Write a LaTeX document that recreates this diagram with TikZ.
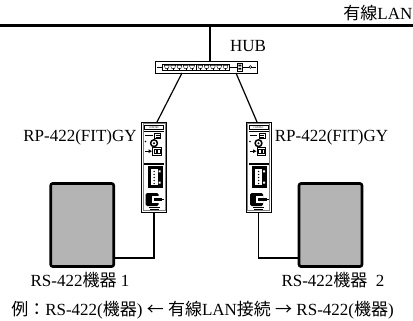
\documentclass[tikz,border=0pt]{standalone}
\usepackage{fontspec}
\setmainfont{Liberation Serif}
\newfontfamily\jpfont{Noto Sans CJK JP}
\definecolor{boxgray}{RGB}{180,180,180}

\tikzset{
  lbl/.style={font=\fontsize{17}{19}\selectfont, inner sep=0pt},
  equip/.style={draw=black, line width=2.6pt, rounded corners=2pt, fill=boxgray,
    minimum width=63pt, minimum height=83pt, inner sep=0pt, outer sep=0pt},
  unit/.style={draw=black, line width=0.8pt, fill=white,
    minimum width=25pt, minimum height=90pt, inner sep=0pt, outer sep=0pt},
  hubbox/.style={draw=black, line width=0.6pt, fill=white,
    minimum width=102.4pt, minimum height=12pt, inner sep=0pt, outer sep=0pt},
  cable/.style={line width=1.4pt},
  link/.style={line width=1.2pt},
  lan/.style={line width=2.8pt},
  % front panel of the RP-422(FIT)GY module, origin at its top-left corner
  rpface/.pic={
    \draw[line width=0.4pt, gray] (1.6,1.6) rectangle (23.4,88.4);
    \draw[line width=0.4pt] (3,3.5) rectangle (22,7.5);
    \node[font=\fontsize{2.6}{3}\selectfont, inner sep=0pt] at (12.5,5.6) {CONTEC};
    \fill (2.5,9) rectangle (22.5,10.5);
    \fill (3.5,12.6) rectangle (11,13.8);
    \draw[line width=0.7pt] (13,11.5) rectangle (19,16.8);
    \draw[line width=0.4pt] (14,13.2) -- (18,13.2) (14,15.1) -- (18,15.1);
    \fill (4,19.5) circle (0.9);
    \draw[line width=1.5pt] (12.5,21.2) circle (3.4);
    \fill (12.5,21.2) circle (1.1);
    \draw[line width=0.8pt] (11,25.5) rectangle (19.5,33);
    \draw[line width=0.5pt] (12.5,27) rectangle (15,31.5) (16,27) rectangle (18.3,31.5);
    \draw[line width=0.8pt] (3.5,29.2) -- (8,29.2);
    \fill (7,27.3) -- (10.5,29.2) -- (7,31.1) -- cycle;
    \fill (2.5,41) rectangle (22.5,42.6);
    \fill (6,44.5) rectangle (21,66);
    \fill[white] (9,47.5) rectangle (16,63);
    \foreach \py in {49.5,52.5,...,61.5} { \fill (12.5,\py) circle (0.75); }
    \fill[white] (17,48.5) rectangle (19,50.5) (17,59.5) rectangle (19,61.5);
    \fill[rounded corners=1.5pt] (4,71) rectangle (17,84);
    \fill[white] (10,74) rectangle (17,81);
    \fill (12,75.6) rectangle (20.5,79.4);
    \fill (20.5,76.6) rectangle (22.5,78.4);
    \draw[line width=0.3pt] (7,85.6) -- (18,85.6);
    \draw[line width=0.5pt] (8,87.2) -- (17,87.2);
  },
  % switching hub front, origin at its top-left corner
  hubface/.pic={
    \draw[line width=0.5pt] (1.5,6) -- (101,6);
    \draw[line width=0.6pt, fill=white] (7,3) rectangle (74,9.5);
    \draw[line width=0.6pt] (40.5,3) -- (40.5,9.5);
    \foreach \px in {9,15.3,21.6,27.9,34.2,42.5,48.8,55.1,61.4,67.7} {
      \draw[line width=0.4pt] (\px,4.4) -- (\px+5,4.4) -- (\px+4,7.4) -- (\px+1,7.4) -- cycle;
      \draw[line width=0.3pt] (\px+2.5,7.4) -- (\px+2.5,8.6);
    }
    \draw[line width=0.6pt, fill=white] (82,2.3) rectangle (87,10);
    \fill (83,3.6) rectangle (86,5.3) (83,7) rectangle (86,8.7);
    \draw[line width=0.5pt, fill=white] (95,6) circle (1.4);
  }
}

\begin{document}
\begin{tikzpicture}[x=1pt, y=-1pt]
  \useasboundingbox (0,0) rectangle (413,321);

  % LAN backbone
  \coordinate (lanL) at (0,25.3);
  \coordinate (lanR) at (413,25.3);
  \draw[lan] (lanL) -- (lanR);
  \node[lbl, anchor=base east] (lanlbl) at (412.5,19.5) {{\jpfont 有線}LAN};

  % hub
  \node[hubbox] (hub) at (206.5,67) {};
  \pic at (hub.north west) {hubface};
  \coordinate (tap) at (210,25.3);
  \draw[lan] (tap) -- (tap |- hub.north);
  \node[lbl, anchor=base] (hublbl) at (248,51.5) {HUB};

  % converters
  \node[unit] (dev1) at (154,167) {};
  \pic at (dev1.north west) {rpface};
  \node[unit] (dev2) at (258.5,167) {};
  \pic at (dev2.north west) {rpface};
  \node[lbl, anchor=base] (dev1lbl) at (80,142) {RP-422(FIT)GY};
  \node[lbl, anchor=base] (dev2lbl) at (331.5,141.5) {RP-422(FIT)GY};

  \draw[link] ([xshift=-24.5pt]hub.south) -- ([xshift=3pt]dev1.north);
  \draw[link] ([xshift=29.5pt]hub.south) -- ([xshift=-1.5pt]dev2.north);

  % RS-422 equipment
  \node[equip] (eq1) at (82.2,225) {};
  \node[equip] (eq2) at (330.5,225) {};
  \node[lbl, anchor=base] (eq1lbl) at (80,286) {RS-422{\jpfont 機器} 1};
  \node[lbl, anchor=base] (eq2lbl) at (333,286) {RS-422{\jpfont 機器}\ \ 2};

  \draw[cable] (dev1.south) |- ([yshift=8.5pt]eq1.south east);
  \draw[cable] (dev2.south) |- ([yshift=8.5pt]eq2.south west);

  % caption
  \node[lbl, anchor=base] (note) at (202.5,315)
    {{\jpfont 例：}RS-422({\jpfont 機器}) {\jpfont ←}\ {\jpfont 有線}LAN{\jpfont 接続}\ {\jpfont →}\ RS-422({\jpfont 機器})};
\end{tikzpicture}
\end{document}
